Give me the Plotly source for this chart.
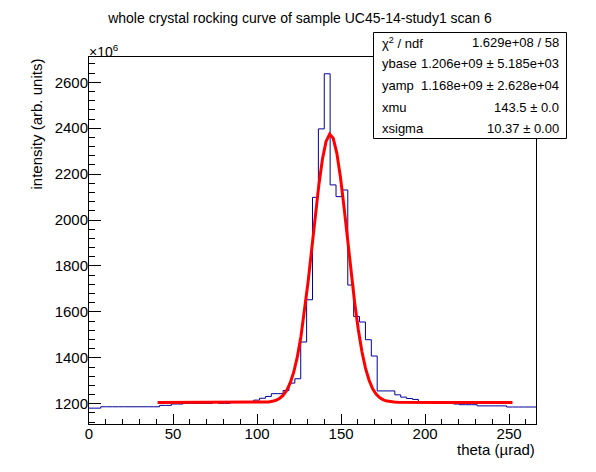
import numpy as np
import plotly.graph_objects as pgo

# histogram: theta bins (urad) and bin contents in units of 1e6
theta_min = 0.0
bin_width = 3.5
counts = [1181, 1181, 1187, 1187, 1187, 1187, 1187, 1187, 1187, 1187,
          1187, 1187, 1193, 1193, 1199, 1199, 1202, 1202, 1202, 1202,
          1202, 1206, 1202, 1202, 1207, 1207, 1207, 1207, 1216, 1224,
          1232, 1244, 1244, 1258, 1290, 1309, 1469, 1653, 2099, 2397,
          2637, 2153, 2102, 2131, 1717, 1580, 1556, 1479, 1408, 1256,
          1256, 1256, 1239, 1229, 1223, 1219, 1208, 1208, 1208, 1208,
          1203, 1203, 1199, 1196, 1196, 1196, 1191, 1191, 1191, 1191,
          1191, 1186, 1186, 1186, 1186, 1186]

# gaussian + constant fit, parameters as in the stats box
ybase = 1.206e9
yamp = 1.168e9
xmu = 143.5
xsigma = 10.37
fit_lo, fit_hi = 40.8, 252.0

stat_names = ["χ<sup>2</sup> / ndf", "ybase", "yamp", "xmu", "xsigma"]
stat_values = ["1.629e+08 / 58", "1.206e+09 ± 5.185e+03",
               "1.168e+09 ± 2.628e+04", "143.5 ± 0.0", "10.37 ± 0.00"]

y_range = [1112, 2710]

# page body has an 8px margin, so the figure is a bit smaller than the window
OFF = 8
W, H = 596 - OFF, 472 - OFF
L, R, T, B = 89 - OFF, 60, 57 - OFF, 48
pw = W - L - R
ph = H - T - B
font = "Liberation Sans, Arial, Helvetica, sans-serif"

# screen pixel -> paper coords
def px(x):
    return (x - OFF - L) / pw

def py(y):
    return (H - B - (y - OFF)) / ph

edges = theta_min + bin_width * np.arange(len(counts) + 1)
hx = list(edges)
hy = counts + [counts[-1]]

fx = np.linspace(fit_lo, fit_hi, 100)
fy = (ybase + yamp * np.exp(-0.5 * ((fx - xmu) / xsigma) ** 2)) / 1e6

fig = pgo.Figure()
fig.add_trace(pgo.Scatter(x=hx, y=hy, mode="lines", line_shape="hv",
                          line=dict(color="#000099", width=1), showlegend=False))
fig.add_trace(pgo.Scatter(x=fx, y=fy, mode="lines",
                          line=dict(color="#ff0000", width=3), showlegend=False))

axis_common = dict(ticks="inside", tickcolor="black", tickwidth=1,
                   showline=True, linecolor="black", linewidth=1, mirror=True,
                   showgrid=False, zeroline=False,
                   tickfont=dict(family=font, size=15, color="black"))

fig.update_xaxes(range=[edges[0], edges[-1]], tick0=0, dtick=50, ticklen=10,
                 ticklabelstandoff=-4,
                 minor=dict(dtick=10, tick0=0, ticks="inside", ticklen=5,
                            tickcolor="black", showgrid=False),
                 **axis_common)
fig.update_yaxes(range=y_range, tick0=1200, dtick=200, ticklen=12,
                 ticklabelstandoff=-3,
                 minor=dict(dtick=40, tick0=1200, ticks="inside", ticklen=6,
                            tickcolor="black", showgrid=False),
                 **axis_common)

ann = []
ann.append(dict(text="×10<sup>6</sup>", x=px(87), y=py(62), xref="paper", yref="paper",
                xanchor="left", yanchor="bottom", showarrow=False,
                font=dict(family=font, size=14, color="black")))
ann.append(dict(text="intensity (arb. units)", textangle=-90, x=px(36), y=py(57),
                xref="paper", yref="paper", xanchor="center", yanchor="top",
                showarrow=False, font=dict(family=font, size=15, color="black")))
ann.append(dict(text="theta (µrad)", x=px(537), y=py(449), xref="paper", yref="paper",
                xanchor="right", yanchor="middle", showarrow=False,
                font=dict(family=font, size=15, color="black")))

row_y = [42.5, 64, 85.7, 107.3, 128.5]
for name, val, ry in zip(stat_names, stat_values, row_y):
    ann.append(dict(text=name, x=px(380), y=py(ry), xref="paper", yref="paper",
                    xanchor="left", yanchor="middle", showarrow=False,
                    font=dict(family=font, size=13, color="black")))
    ann.append(dict(text=val, x=px(561), y=py(ry), xref="paper", yref="paper",
                    xanchor="right", yanchor="middle", showarrow=False,
                    font=dict(family=font, size=13, color="black")))

fig.add_shape(type="rect", xref="paper", yref="paper",
              x0=px(373.5), x1=px(566.5), y0=py(138.5), y1=py(32.5),
              line=dict(color="black", width=1), fillcolor="white", layer="above")

fig.update_layout(
    width=W, height=H, autosize=False,
    margin=dict(l=L, r=R, t=T, b=B),
    paper_bgcolor="white", plot_bgcolor="white",
    title=dict(text="whole crystal rocking curve of sample UC45-14-study1 scan 6",
               x=(300 - OFF) / W, y=1 - (18 - OFF) / H, xref="container", yref="container",
               xanchor="center", yanchor="middle",
               font=dict(family=font, size=14, color="black")),
    annotations=ann,
)

fig.write_html("out.html")
